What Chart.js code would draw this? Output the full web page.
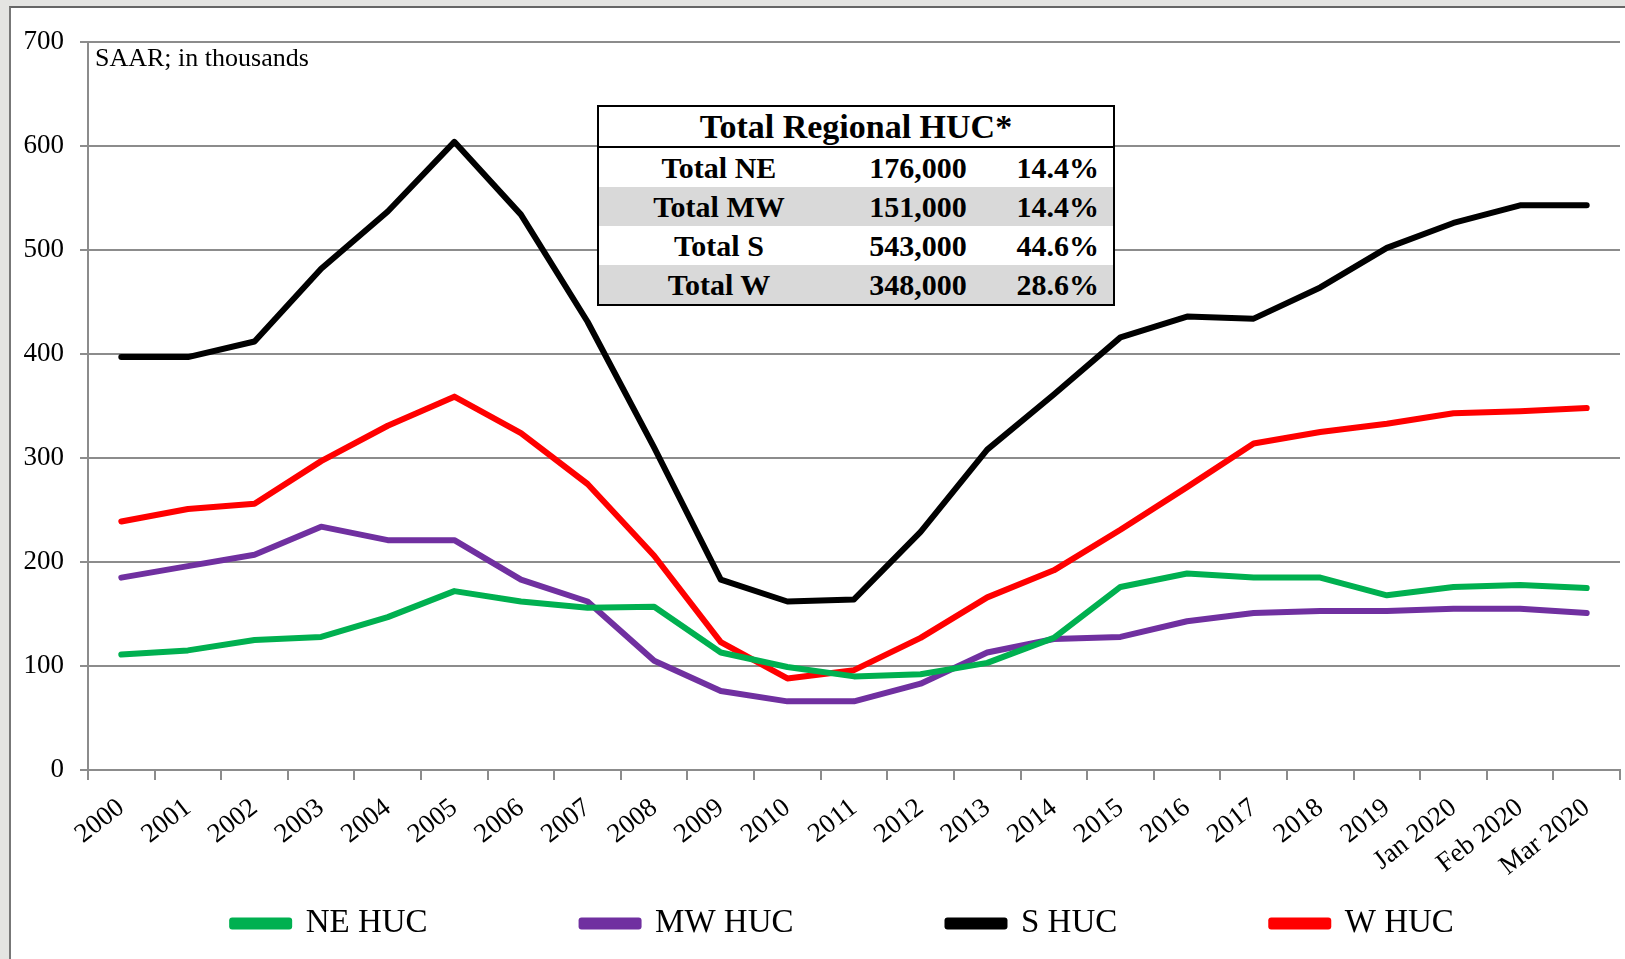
<!DOCTYPE html>
<html>
<head>
<meta charset="utf-8">
<script src="https://cdn.jsdelivr.net/npm/chart.js@4/dist/chart.umd.min.js"></script>
<style>
    html, body { margin: 0; padding: 0; }
    body { width: 1625px; height: 959px; background: #e4e4e2; position: relative; overflow: hidden; font-family: 'Liberation Serif', 'Times New Roman', serif; }
    #frame { position: absolute; left: 9px; top: 6px; right: 0; bottom: 0; background: #fff; border-left: 2px solid #777; border-top: 2px solid #666; }
    #wrap { position: absolute; left: 0; top: 0; width: 1625px; height: 959px; }
    #note { position: absolute; left: 95px; top: 45px; font-size: 26px; line-height: 26px; color: #000; }
    #huc { position: absolute; left: 597px; top: 105px; width: 518px; border-collapse: collapse; border: 2px solid #000; background: #fff; font-weight: bold; color: #000; }
    #huc th { font-size: 34px; height: 39px; padding: 0; line-height: 34px; border-bottom: 2px solid #000; }
    #huc td { font-size: 30px; height: 39px; padding: 0; line-height: 30px; }
    #huc tr.shade td { background: #d9d9d9; }
    #huc td.c1 { width: 240px; text-align: center; }
    #huc td.c2 { width: 158px; text-align: center; }
    #huc td.c3 { text-align: right; padding-right: 14px; }
</style>
</head>
<body>
<div id="frame"></div>
<div id="wrap"><canvas id="hucChart" width="1625" height="959"></canvas></div>
<div id="note">SAAR; in thousands</div>
<table id="huc">
    <tr><th colspan="3">Total Regional HUC*</th></tr>
    <tbody id="hucRows"></tbody>
</table>
<script>
// Categories
const labels = ['2000', '2001', '2002', '2003', '2004', '2005', '2006', '2007', '2008', '2009',
    '2010', '2011', '2012', '2013', '2014', '2015', '2016', '2017', '2018', '2019',
    'Jan 2020', 'Feb 2020', 'Mar 2020'];

// Housing units under construction, SAAR, thousands
const neHuc = [111, 115, 125, 128, 147, 172, 162, 156, 157, 113, 99, 90, 92, 103, 127, 176, 189, 185, 185, 168, 176, 178, 175];
const mwHuc = [185, 196, 207, 234, 221, 221, 183, 162, 105, 76, 66, 66, 83, 113, 126, 128, 143, 151, 153, 153, 155, 155, 151];
const sHuc = [397, 397, 412, 482, 537, 604, 534, 431, 310, 183, 162, 164, 229, 308, 361, 416, 436, 434, 464, 502, 526, 543, 543];
const wHuc = [239, 251, 256, 297, 331, 359, 324, 275, 206, 123, 88, 96, 127, 166, 192, 231, 272, 314, 325, 333, 343, 345, 348];

// Summary table
const tableNames = ['Total NE', 'Total MW', 'Total S', 'Total W'];
const tableTotals = ['176,000', '151,000', '543,000', '348,000'];
const tableShares = ['14.4%', '14.4%', '44.6%', '28.6%'];

// Y axis ticks
const yTicks = [0, 100, 200, 300, 400, 500, 600, 700];

const rowsEl = document.getElementById('hucRows');
tableNames.forEach((name, i) => {
    const tr = document.createElement('tr');
    if (i % 2 === 1) tr.className = 'shade';
    tr.innerHTML = '<td class="c1">' + name + '</td><td class="c2">' + tableTotals[i] + '</td><td class="c3">' + tableShares[i] + '</td>';
    rowsEl.appendChild(tr);
});

const serif = "'Liberation Serif', 'Times New Roman', serif";
const gridGray = '#8c8c8c';
const legendGap = 154;   // horizontal gap between legend items
const legendHeight = 52;
const legendShiftX = 33;

function series(label, data, color) {
    return {
        label: label, data: data, borderColor: color, backgroundColor: color,
        borderWidth: 6, pointRadius: 0, tension: 0,
        borderCapStyle: 'round', borderJoinStyle: 'round'
    };
}

// legend padding is used both ways; keep the wide horizontal gap but a short box
const legendFit = {
    id: 'legendFit',
    beforeLayout(chart) {
        const lg = chart.legend;
        if (!lg || lg._patched) return;
        const origFit = lg.fit;
        lg.fit = function () {
            origFit.call(this);
            this.height = legendHeight;
        };
        lg._patched = true;
    },
    afterLayout(chart) {
        // items are drawn at top + padding, so pull only the top up
        const lg = chart.legend;
        lg.top -= legendGap - 13;
        lg.left += legendShiftX;
        lg.right += legendShiftX;
    }
};

const ctx = document.getElementById('hucChart').getContext('2d');
const hucChart = new Chart(ctx, {
    type: 'line',
    data: {
        labels: labels,
        datasets: [
            series('NE HUC', neHuc, '#00b050'),
            series('MW HUC', mwHuc, '#7030a0'),
            series('S HUC', sHuc, '#000000'),
            series('W HUC', wHuc, '#ff0000')
        ]
    },
    options: {
        responsive: false,
        animation: false,
        layout: { padding: { left: 0, top: 42, right: 5, bottom: 13 } },
        scales: {
            x: {
                offset: true,
                grid: { offset: true, drawOnChartArea: false, drawTicks: true, tickLength: 10, color: gridGray, lineWidth: 2 },
                border: { color: gridGray, width: 2 },
                ticks: { color: '#000', font: { family: serif, size: 27 }, minRotation: 38, maxRotation: 38, autoSkip: false, padding: 12 },
                afterFit: (scale) => { scale.height = 124; }
            },
            y: {
                min: 0, max: 700,
                afterBuildTicks: (scale) => { scale.ticks = yTicks.map(v => ({ value: v })); },
                grid: { color: gridGray, lineWidth: 2, tickLength: 8 },
                border: { color: gridGray, width: 2 },
                ticks: { color: '#000', font: { family: serif, size: 27 }, padding: 16 },
                afterFit: (scale) => { scale.width = 88; }
            }
        },
        plugins: {
            legend: {
                position: 'bottom',
                labels: {
                    color: '#000',
                    font: { family: serif, size: 33 },
                    boxWidth: 57, boxHeight: 6,
                    padding: legendGap
                }
            },
            tooltip: { enabled: false }
        }
    },
    plugins: [legendFit]
});
</script>
</body>
</html>
